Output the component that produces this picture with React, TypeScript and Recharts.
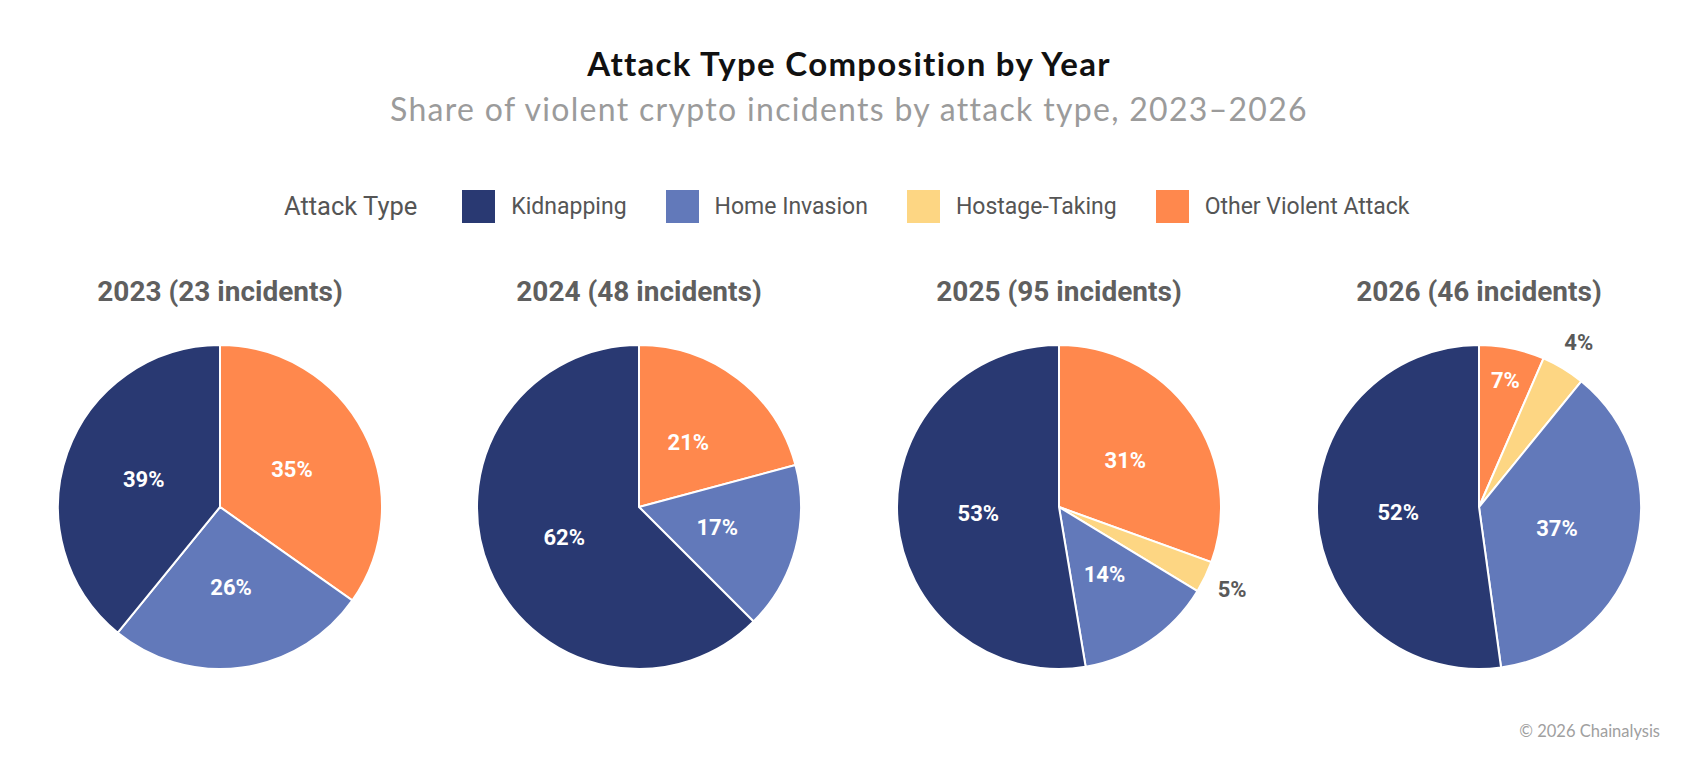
import React from "react";
import { PieChart, Pie, Cell } from "recharts";

const categories = ["Other Violent Attack", "Hostage-Taking", "Home Invasion", "Kidnapping"];
const legendOrder = ["Kidnapping", "Home Invasion", "Hostage-Taking", "Other Violent Attack"];
const years = ["2023", "2024", "2025", "2026"];
const incidents = [23, 48, 95, 46];
// incident counts per category (order: Other, Hostage, Home Invasion, Kidnapping)
const values2023 = [8, 0, 6, 9];
const values2024 = [10, 0, 8, 30];
const values2025 = [29, 3, 13, 50];
const values2026 = [3, 2, 17, 24];
const labels2023 = ["35%", "", "26%", "39%"];
const labels2024 = ["21%", "", "17%", "62%"];
const labels2025 = ["31%", "5%", "14%", "53%"];
const labels2026 = ["7%", "4%", "37%", "52%"];

const COLORS: Record<string, string> = {
  Kidnapping: "#293972",
  "Home Invasion": "#6279BA",
  "Hostage-Taking": "#FDD683",
  "Other Violent Attack": "#FF884D",
};

const W = 1698;
const H = 784;
const R = 162;
const CY = 507;
const CXS = [220, 639, 1059, 1479];

const allValues = [values2023, values2024, values2025, values2026];
const allLabels = [labels2023, labels2024, labels2025, labels2026];

const RAD = Math.PI / 180;

const renderLabel = (props: any) => {
  const { cx, cy, midAngle, outerRadius, percent, payload } = props;
  const text = payload?.label;
  if (!text) return null;
  let r = outerRadius * 0.5;
  let fill = "#ffffff";
  if (percent < 0.05) {
    r = outerRadius + 30;
    fill = "#595959";
  } else if (percent < 0.1) {
    r = outerRadius * 0.8;
  }
  const x = cx + r * Math.cos(-midAngle * RAD);
  const y = cy + r * Math.sin(-midAngle * RAD);
  return (
    <text
      x={x}
      y={y}
      fill={fill}
      textAnchor="middle"
      dominantBaseline="central"
      style={{ fontFamily: "Roboto, sans-serif", fontWeight: 700, fontSize: 22 }}
    >
      {text}
    </text>
  );
};

export default function App() {
  const datasets = allValues.map((vals, i) =>
    categories
      .map((c, j) => ({ name: c, value: vals[j], label: allLabels[i][j] }))
      .filter((d) => d.value > 0)
  );
  return (
    <div style={{ position: "absolute", left: 0, top: 0, width: W, height: H, background: "#fff", overflow: "hidden" }}>
      <div
        style={{
          position: "absolute",
          top: 43,
          left: 0,
          width: W,
          textAlign: "center",
          fontFamily: "Lato, sans-serif",
          fontWeight: 700,
          fontSize: 33,
          letterSpacing: 1.3,
          color: "#111",
          lineHeight: "40px",
        }}
      >
        Attack Type Composition by Year
      </div>
      <div
        style={{
          position: "absolute",
          top: 89,
          left: 0,
          width: W,
          textAlign: "center",
          fontFamily: "Lato, sans-serif",
          fontWeight: 400,
          fontSize: 32,
          letterSpacing: 1.3,
          color: "#9b9b9b",
          lineHeight: "40px",
        }}
      >
        Share of violent crypto incidents by attack type, 2023–2026
      </div>
      <div
        style={{
          position: "absolute",
          top: 189,
          left: 284,
          height: 34,
          display: "flex",
          alignItems: "center",
          fontFamily: "Roboto, sans-serif",
          fontSize: 23,
          color: "#555",
        }}
      >
        <span style={{ marginRight: 45, fontSize: 25.5 }}>Attack Type</span>
        {legendOrder.map((c) => (
          <span key={c} style={{ display: "flex", alignItems: "center", marginRight: 39 }}>
            <span style={{ width: 33, height: 33, background: COLORS[c], display: "inline-block", marginRight: 16 }} />
            <span>{c}</span>
          </span>
        ))}
      </div>
      {years.map((y, i) => (
        <div
          key={y}
          style={{
            position: "absolute",
            top: 275,
            left: CXS[i] - 200,
            width: 400,
            textAlign: "center",
            fontFamily: "Roboto, sans-serif",
            fontWeight: 700,
            fontSize: 28,
            color: "#5f5f5f",
            lineHeight: "34px",
          }}
        >
          {`${y} (${incidents[i]} incidents)`}
        </div>
      ))}
      <div style={{ position: "absolute", left: 0, top: 0 }}>
        <PieChart width={W} height={H} margin={{ top: 0, right: 0, bottom: 0, left: 0 }}>
          {datasets.map((data, i) => (
            <Pie
              key={years[i]}
              data={data}
              dataKey="value"
              nameKey="name"
              cx={CXS[i]}
              cy={CY}
              innerRadius={0}
              outerRadius={R}
              startAngle={90}
              endAngle={-270}
              stroke="#ffffff"
              strokeWidth={2}
              label={renderLabel}
              labelLine={false}
              isAnimationActive={false}
            >
              {data.map((d) => (
                <Cell key={d.name} fill={COLORS[d.name]} />
              ))}
            </Pie>
          ))}
        </PieChart>
      </div>
      <div
        style={{
          position: "absolute",
          top: 721,
          right: 38,
          fontFamily: "Lato, sans-serif",
          fontSize: 16.5,
          color: "#a0a0a0",
        }}
      >
        © 2026 Chainalysis
      </div>
    </div>
  );
}
